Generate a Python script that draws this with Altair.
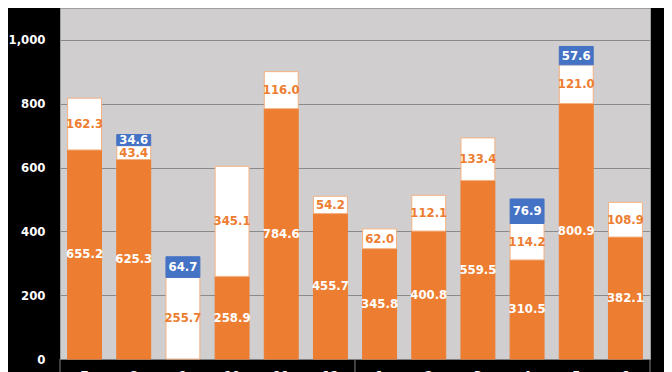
import altair as alt
import pandas as pd

months = ["7", "8", "9", "10", "11", "12", "1", "2", "3", "4", "5", "6"]
orange_vals = [655.2, 625.3, 0.0, 258.9, 784.6, 455.7, 345.8, 400.8, 559.5, 310.5, 800.9, 382.1]
white_vals = [162.3, 43.4, 255.7, 345.1, 116.0, 54.2, 62.0, 112.1, 133.4, 114.2, 121.0, 108.9]
blue_vals = [0.0, 34.6, 64.7, 0.0, 0.0, 0.0, 0.0, 0.0, 0.0, 76.9, 57.6, 0.0]
series_names = ["A", "B", "C"]
y_ticks = [0, 200, 400, 600, 800, 1000]

ORANGE = "#ED7D31"
BLUE = "#4472C4"
WHITE = "#FFFFFF"
FONT = "DejaVu Sans Condensed, Liberation Sans Narrow, sans-serif"

rows = []
for i, m in enumerate(months):
    for k, (s, vals) in enumerate(zip(series_names, [orange_vals, white_vals, blue_vals])):
        rows.append({"cat": m, "series": s, "order": k, "value": vals[i]})
df = pd.DataFrame(rows)

xscale = alt.Scale(domain=months, paddingInner=0.31, paddingOuter=0.155)

base = (
    alt.Chart(df)
    .transform_filter("datum.value > 0")
    .transform_stack(stack="value", groupby=["cat"], as_=["y0", "y1"],
                     sort=[alt.SortField("order")])
    .transform_calculate(mid="(datum.y0 + datum.y1) / 2")
)

bars = base.mark_bar(strokeWidth=1).encode(
    x=alt.X("cat:N", scale=xscale, sort=months,
            axis=alt.Axis(title=None, labelAngle=0, labelColor="white", labelFont=FONT,
                          labelFontWeight="bold", labelFontSize=13, labelPadding=10,
                          ticks=False, domainColor="#7f7f7f", grid=False)),
    y=alt.Y("y0:Q", scale=alt.Scale(domain=[0, 1100], nice=False, zero=True),
            axis=alt.Axis(title=None, values=y_ticks, format=",.0f", grid=True,
                          gridColor="#8a8a8a", gridWidth=1, domain=False, ticks=False,
                          labelColor="white", labelFont=FONT, labelFontWeight="bold",
                          labelFontSize=13, labelPadding=15)),
    y2="y1:Q",
    color=alt.Color("series:N", scale=alt.Scale(domain=series_names, range=[ORANGE, WHITE, BLUE]),
                    legend=None),
    stroke=alt.Stroke("series:N", scale=alt.Scale(domain=series_names, range=[ORANGE, "#F4B183", BLUE]),
                      legend=None),
)

labels = base.mark_text(font=FONT, fontWeight="bold", fontSize=13, baseline="middle").encode(
    x=alt.X("cat:N", scale=xscale, sort=months),
    y=alt.Y("mid:Q"),
    text=alt.Text("value:Q", format=".1f"),
    color=alt.Color("series:N", scale=alt.Scale(domain=series_names, range=[WHITE, ORANGE, WHITE]),
                    legend=None),
)

sep_df = pd.DataFrame({"cat": ["12", "6"]})
sep_right = alt.Chart(sep_df).mark_rule(color="#7f7f7f", xOffset=7.6).encode(
    x=alt.X("cat:N", scale=xscale, sort=months, bandPosition=1),
    y=alt.value(351), y2=alt.value(366),
)
sep_left = alt.Chart(pd.DataFrame({"cat": ["7"]})).mark_rule(color="#7f7f7f", xOffset=-7.6).encode(
    x=alt.X("cat:N", scale=xscale, sort=months, bandPosition=0),
    y=alt.value(351), y2=alt.value(366),
)

chart = (
    alt.layer(bars, labels, sep_left, sep_right)
    .resolve_scale(color="independent")
    .properties(width=590, height=351,
                autosize=alt.AutoSizeParams(type="none"),
                padding={"left": 52, "right": 14, "top": 0, "bottom": 13},
                background="black")
    .configure_view(fill="#D0CECE", stroke="#a0a0a0", strokeWidth=1)
)

chart.save("out.html", embed_options={"renderer": "svg", "actions": False})
